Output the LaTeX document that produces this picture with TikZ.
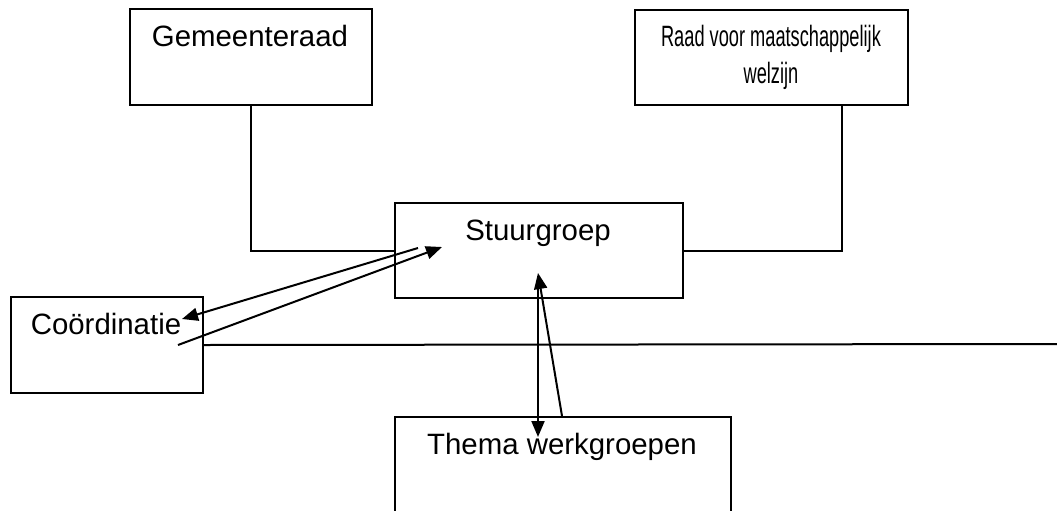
\documentclass[tikz,border=0pt]{standalone}
\usepackage{fontspec}
\setmainfont{Liberation Sans}
\newfontfamily\narrowsans[FakeStretch=0.62]{Liberation Sans}
\usetikzlibrary{arrows.meta,calc}
\begin{document}
\begin{tikzpicture}[x=0.5pt,y=-0.5pt]
	\tikzstyle{box}=[rectangle,draw=black,line width=1pt,anchor=north west,inner sep=0pt]
	\tikzstyle{txt}=[font=\fontsize{14.7}{18.5}\selectfont,anchor=north,inner sep=0pt,align=center]
	\tikzstyle{edge}=[draw=black,line width=1pt]
	\tikzstyle{arr}=[draw=black,line width=1pt,-{Triangle[length=8pt,width=6.5pt]}]

	\useasboundingbox (0,0) rectangle (1057,510);
	\clip (0,0) rectangle (1057,510);

	 \node [box,minimum width=121pt,minimum height=48pt] (gem) at (129,8) {};
	 \node [box,minimum width=136.5pt,minimum height=47.5pt] (raad) at (634,9) {};
	 \node [box,minimum width=144pt,minimum height=47.5pt] (stuur) at (394,202) {};
	 \node [box,minimum width=96pt,minimum height=48pt] (coord) at (10,296) {};
	 \node [box,minimum width=168pt,minimum height=52pt] (thema) at (394,416) {};

	 \node [txt] (gemtxt) at (250,25) {Gemeenteraad};
	 \node [txt,font=\narrowsans\fontsize{14.7}{18.5}\selectfont] (raadtxt) at (771,25) {Raad voor maatschappelijk\\welzijn};
	 \node [txt] (stuurtxt) at (538,220) {Stuurgroep};
	 \node [txt] (coordtxt) at (106,313) {Coördinatie};
	 \node [txt] (thematxt) at (562,433) {Thema werkgroepen};

	 \coordinate (raadfoot) at ($(raad.south east)+(-67,0)$);
	 \coordinate (lineend) at (1060,344);
	 \coordinate (c1) at (418,248);
	 \coordinate (c2) at (182,319);
	 \coordinate (c3) at (178,345);
	 \coordinate (c4) at (442,247);
	 \coordinate (c5) at (538,276);
	 \coordinate (c6) at (538,437);
	 \coordinate (c7) at (562,416);
	 \coordinate (c8) at (538,273);

	 \path[edge] (gem.south) |- (stuur.west);
	 \path[edge] (raadfoot) |- (stuur.east);
	 \path[edge] (coord.east) -- (lineend);

	 \path[arr] (c1) -- (c2);
	 \path[arr] (c3) -- (c4);
	 \path[arr] (c5) -- (c6);
	 \path[arr] (c7) -- (c8);

\end{tikzpicture}
\end{document}
